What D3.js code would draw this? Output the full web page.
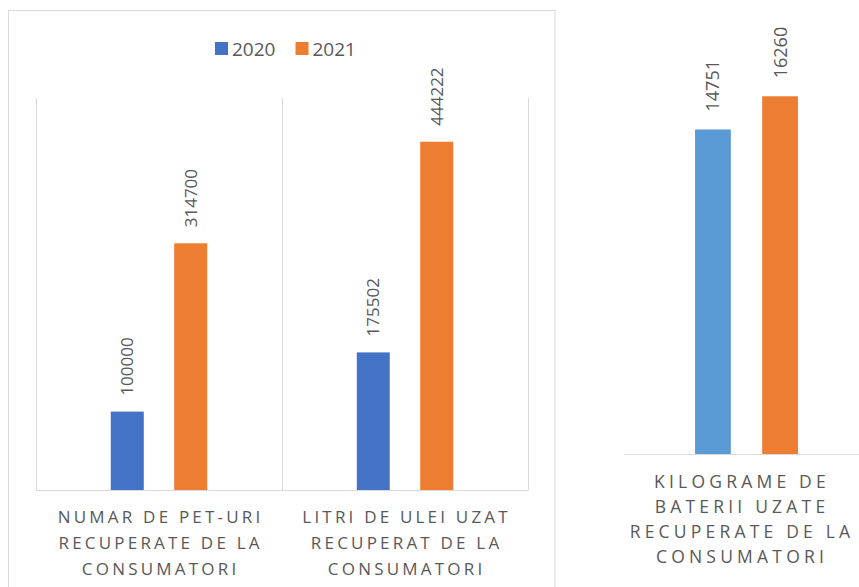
<!DOCTYPE html>
<html>
<head>
<meta charset="utf-8">
<script src="https://cdn.jsdelivr.net/npm/d3@7"></script>
<style>
  body { margin: 0; background: #fff; }
  svg text { font-family: "Open Sans", sans-serif; fill: #595959; }
</style>
</head>
<body>
<svg id="chart" width="859" height="587"></svg>
<script>
// data
var years = ["2020", "2021"];
var leftCategories = [
  ["NUMAR DE PET-URI", "RECUPERATE DE LA", "CONSUMATORI"],
  ["LITRI DE ULEI UZAT", "RECUPERAT DE LA", "CONSUMATORI"]
];
var leftValues2020 = [100000, 175502];
var leftValues2021 = [314700, 444222];
var rightCategories = [
  ["KILOGRAME DE", "BATERII UZATE", "RECUPERATE DE LA", "CONSUMATORI"]
];
var rightValues2020 = [14751];
var rightValues2021 = [16260];

var svg = d3.select("#chart");

// ---- left chart (framed, with legend) ----
var leftColors = d3.scaleOrdinal().domain(years).range(["#4472C4", "#ED7D31"]);

svg.append("rect")
  .attr("x", 8.5).attr("y", 10.5)
  .attr("width", 546.5).attr("height", 600)
  .attr("fill", "none").attr("stroke", "#D9D9D9");

var x0 = d3.scaleBand().domain(d3.range(leftCategories.length)).range([36, 528]);
var xIn = d3.scaleBand().domain(years)
  .range([x0.bandwidth() * 0.304, x0.bandwidth() * 0.696])
  .paddingInner(0.48);
var yL = d3.scaleLinear().domain([0, 500000]).range([490, 98]);

// vertical separators
var edges = x0.domain().map(function(d) { return x0(d); }).concat([x0.range()[1]]);
svg.selectAll(".sep").data(edges).enter().append("line")
  .attr("x1", function(d) { return Math.round(d) + 0.5; })
  .attr("x2", function(d) { return Math.round(d) + 0.5; })
  .attr("y1", yL.range()[1]).attr("y2", yL(0))
  .attr("stroke", "#D9D9D9");
svg.append("line")
  .attr("x1", 36).attr("x2", 528.5)
  .attr("y1", yL(0) + 0.5).attr("y2", yL(0) + 0.5)
  .attr("stroke", "#D9D9D9");

var leftRows = [];
leftCategories.forEach(function(c, i) {
  leftRows.push({ cat: i, year: "2020", value: leftValues2020[i] });
  leftRows.push({ cat: i, year: "2021", value: leftValues2021[i] });
});

svg.selectAll(".barL").data(leftRows).enter().append("rect")
  .attr("x", function(d) { return x0(d.cat) + xIn(d.year); })
  .attr("y", function(d) { return yL(d.value); })
  .attr("width", xIn.bandwidth())
  .attr("height", function(d) { return yL(0) - yL(d.value); })
  .attr("fill", function(d) { return leftColors(d.year); });

svg.selectAll(".valL").data(leftRows).enter().append("text")
  .attr("transform", function(d) {
    var cx = x0(d.cat) + xIn(d.year) + xIn.bandwidth() / 2;
    return "translate(" + cx + "," + (yL(d.value) - 16) + ")rotate(-90)";
  })
  .attr("dy", "0.36em")
  .style("font-size", "17px")
  .text(function(d) { return d.value; });

// category labels
leftCategories.forEach(function(lines, i) {
  var t = svg.append("text")
    .attr("text-anchor", "middle")
    .style("font-size", "17px")
    .style("letter-spacing", "3.2px");
  lines.forEach(function(l, k) {
    t.append("tspan")
      .attr("x", x0(i) + x0.bandwidth() / 2 + 1.6)
      .attr("y", 522.5 + k * 26)
      .text(l);
  });
});

// legend
var legend = svg.append("g");
var legX = [215, 295.5];
years.forEach(function(y, i) {
  legend.append("rect")
    .attr("x", legX[i]).attr("y", 42)
    .attr("width", 13).attr("height", 13)
    .attr("fill", leftColors(y));
  legend.append("text")
    .attr("x", legX[i] + 17).attr("y", 55.5)
    .style("font-size", "19px")
    .text(y);
});

// ---- right chart (no frame) ----
var rightColors = d3.scaleOrdinal().domain(years).range(["#5B9BD5", "#ED7D31"]);
var xR = d3.scaleBand().domain(d3.range(rightCategories.length)).range([624, 869]);
var xRIn = d3.scaleBand().domain(years)
  .range([xR.bandwidth() * 0.29, xR.bandwidth() * 0.71])
  .paddingInner(0.467);
var yR = d3.scaleLinear().domain([0, 20000]).range([454, 14]);

svg.append("line")
  .attr("x1", 624).attr("x2", 859)
  .attr("y1", yR(0) + 0.5).attr("y2", yR(0) + 0.5)
  .attr("stroke", "#D9D9D9");

var rightRows = [];
rightCategories.forEach(function(c, i) {
  rightRows.push({ cat: i, year: "2020", value: rightValues2020[i] });
  rightRows.push({ cat: i, year: "2021", value: rightValues2021[i] });
});

svg.selectAll(".barR").data(rightRows).enter().append("rect")
  .attr("x", function(d) { return xR(d.cat) + xRIn(d.year); })
  .attr("y", function(d) { return yR(d.value); })
  .attr("width", xRIn.bandwidth())
  .attr("height", function(d) { return yR(0) - yR(d.value); })
  .attr("fill", function(d) { return rightColors(d.year); });

svg.selectAll(".valR").data(rightRows).enter().append("text")
  .attr("transform", function(d) {
    var cx = xR(d.cat) + xRIn(d.year) + xRIn.bandwidth() / 2;
    return "translate(" + cx + "," + (yR(d.value) - 18) + ")rotate(-90)";
  })
  .attr("dy", "0.36em")
  .style("font-size", "18px")
  .text(function(d) { return d.value; });

rightCategories.forEach(function(lines, i) {
  var t = svg.append("text")
    .attr("text-anchor", "middle")
    .style("font-size", "17.5px")
    .style("letter-spacing", "4.2px");
  lines.forEach(function(l, k) {
    t.append("tspan")
      .attr("x", xR(i) + xR.bandwidth() / 2 - 4.5)
      .attr("y", 487.5 + k * 25)
      .text(l);
  });
});
</script>
</body>
</html>
